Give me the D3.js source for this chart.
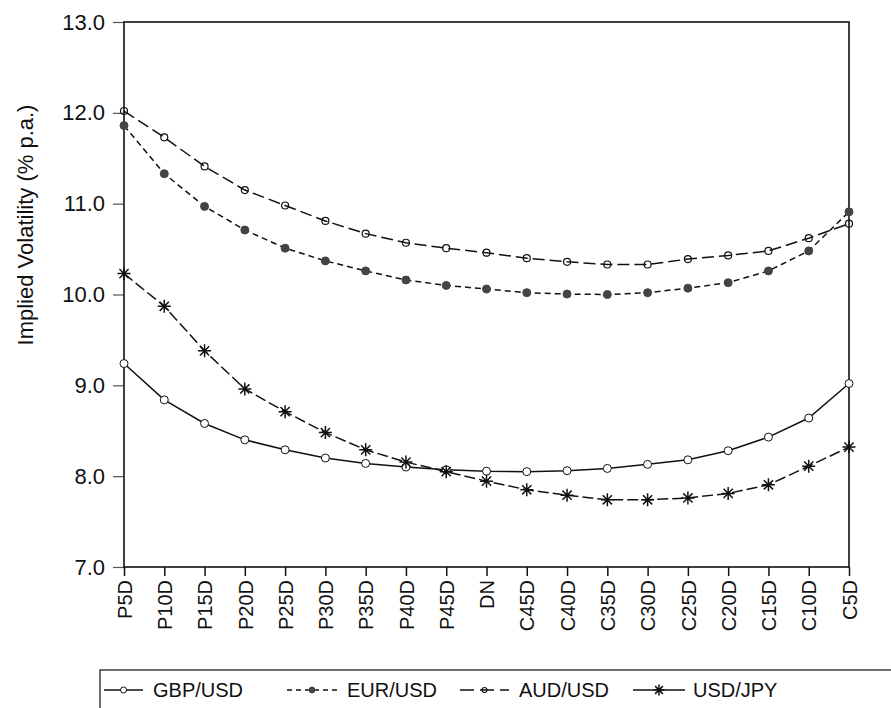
<!DOCTYPE html>
<html><head><meta charset="utf-8">
<script src="https://cdn.jsdelivr.net/npm/d3@7"></script>
<style>body{margin:0;background:#fff} text{font-family:Arial,"Liberation Sans",sans-serif;fill:#111}</style>
</head><body><svg id="c" width="891" height="708"></svg>
<script>
const categories = ["P5D","P10D","P15D","P20D","P25D","P30D","P35D","P40D","P45D","DN","C45D","C40D","C35D","C30D","C25D","C20D","C15D","C10D","C5D"];
const gbpUsd = [9.24, 8.84, 8.58, 8.40, 8.29, 8.20, 8.14, 8.10, 8.07, 8.055, 8.05, 8.06, 8.085, 8.13, 8.18, 8.28, 8.43, 8.64, 9.02];
const eurUsd = [11.86, 11.33, 10.97, 10.71, 10.51, 10.37, 10.26, 10.16, 10.10, 10.06, 10.02, 10.005, 10.00, 10.02, 10.07, 10.13, 10.26, 10.48, 10.91];
const audUsd = [12.02, 11.73, 11.41, 11.15, 10.98, 10.81, 10.67, 10.57, 10.51, 10.46, 10.40, 10.36, 10.33, 10.33, 10.39, 10.43, 10.48, 10.62, 10.78];
const usdJpy = [10.23, 9.87, 9.38, 8.96, 8.71, 8.48, 8.29, 8.155, 8.05, 7.945, 7.85, 7.79, 7.74, 7.74, 7.76, 7.81, 7.905, 8.11, 8.32];
const yTicks = [7.0, 8.0, 9.0, 10.0, 11.0, 12.0, 13.0];
const seriesNames = ["GBP/USD","EUR/USD","AUD/USD","USD/JPY"];

const series = [
  {name: seriesNames[0], values: gbpUsd, dash: null, marker: "open"},
  {name: seriesNames[1], values: eurUsd, dash: "6,4", marker: "filled"},
  {name: seriesNames[2], values: audUsd, dash: "12,5", marker: "hollow"},
  {name: seriesNames[3], values: usdJpy, dash: "11,4", marker: "star"}
];

const svg = d3.select("#c");
const L = 124, R = 849, T = 22, B = 567;
const x = d3.scalePoint().domain(categories).range([L, R]);
const y = d3.scaleLinear().domain([7, 13]).range([B, T]);

// Y axis
const yAxis = svg.append("g").attr("transform", `translate(${L},0)`)
  .call(d3.axisLeft(y).tickValues(yTicks).tickFormat(d3.format(".1f")).tickSize(11).tickPadding(8));
yAxis.select(".domain").remove();
yAxis.selectAll("line").attr("stroke", "#555").attr("stroke-width", 1.2);
yAxis.selectAll("text").attr("font-size", 22).attr("fill", "#111");

// X axis
const xAxis = svg.append("g").attr("transform", `translate(0,${B})`)
  .call(d3.axisBottom(x).tickSize(9).tickPadding(0));
xAxis.select(".domain").remove();
xAxis.selectAll("line").attr("stroke", "#111").attr("stroke-width", 1.5);
xAxis.selectAll("text")
  .attr("font-size", 20).attr("fill", "#111")
  .attr("text-anchor", "end")
  .attr("transform", "rotate(-90)")
  .attr("x", -13).attr("y", 0).attr("dy", "0.36em");

// Frame
svg.append("rect").attr("x", L).attr("y", T).attr("width", R - L).attr("height", B - T)
  .attr("fill", "none").attr("stroke", "#111").attr("stroke-width", 1.6);

// Y title
svg.append("text").attr("transform", "translate(33,225) rotate(-90)")
  .attr("text-anchor", "middle").attr("font-size", 22).text("Implied Volatility (% p.a.)");

const starPath = r => {
  const d = r * Math.SQRT1_2;
  return `M${-r},0L${r},0M0,${-r}L0,${r}M${-d},${-d}L${d},${d}M${-d},${d}L${d},${-d}`;
};

function drawMarker(g, type, r) {
  if (type === "open") g.append("circle").attr("r", r).attr("fill", "#fff").attr("stroke", "#111").attr("stroke-width", 1);
  else if (type === "filled") g.append("circle").attr("r", r).attr("fill", "#444").attr("stroke", "#444");
  else if (type === "hollow") g.append("circle").attr("r", r - 0.5).attr("fill", "none").attr("stroke", "#111").attr("stroke-width", 1.2);
  else g.append("path").attr("d", starPath(r + 2.5)).attr("stroke", "#111").attr("stroke-width", 1.5).attr("fill", "none");
}

const line = d3.line().x((d, i) => x(categories[i])).y(d => y(d));
const plot = svg.append("g");
series.forEach(s => {
  plot.append("path").datum(s.values).attr("d", line)
    .attr("fill", "none").attr("stroke", "#111").attr("stroke-width", 1.5)
    .attr("stroke-dasharray", s.dash);
});
series.forEach(s => {
  s.values.forEach((v, i) => {
    const g = plot.append("g").attr("transform", `translate(${x(categories[i])},${y(v)})`);
    drawMarker(g, s.marker, 4);
  });
});

// Legend
const lg = svg.append("g");
lg.append("rect").attr("x", 100).attr("y", 670).attr("width", 820).attr("height", 60)
  .attr("fill", "none").attr("stroke", "#111").attr("stroke-width", 1.2);
const legendPos = [
  {x0: 104, x1: 143, tx: 153},
  {x0: 287, x1: 337, tx: 347},
  {x0: 460, x1: 509, tx: 519},
  {x0: 633, x1: 685, tx: 693}
];
const legendDash = [null, "5,4", "14,6", null];
series.forEach((s, i) => {
  const p = legendPos[i], ly = 690;
  lg.append("line").attr("x1", p.x0).attr("x2", p.x1).attr("y1", ly).attr("y2", ly)
    .attr("stroke", "#111").attr("stroke-width", 1.5).attr("stroke-dasharray", legendDash[i]);
  const g = lg.append("g").attr("transform", `translate(${(p.x0 + p.x1) / 2},${ly})`);
  drawMarker(g, s.marker, 3);
  lg.append("text").attr("x", p.tx).attr("y", 697).attr("font-size", 20).text(s.name);
});
</script></body></html>
